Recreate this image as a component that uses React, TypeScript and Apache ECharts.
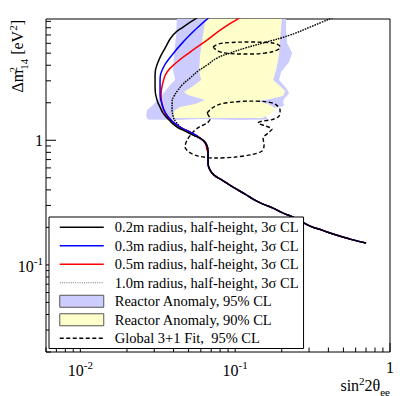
import React, { useEffect, useRef } from 'react';
import * as echarts from 'echarts';

type P = [number, number];

const F = "'Liberation Serif', 'Times New Roman', serif";

// Axis ranges
const X_MIN = 0.006;
const X_MAX = 1;
const Y_MIN = 0.02;
const Y_MAX = 9.4;

// Tick labels / tick values
const X_LABELS = [0.01, 0.1, 1];
const Y_LABELS = [0.1, 1];
const X_MAJOR = [0.01, 0.1, 1];
const Y_MAJOR = [0.1, 1];
const MINOR_STEPS = [2, 3, 4, 5, 6, 7, 8, 9];
const X_DECADES = [0.001, 0.01, 0.1];
const Y_DECADES = [0.01, 0.1, 1];

// Series names
const N02 = '0.2m radius, half-height, 3\u03c3 CL';
const N03 = '0.3m radius, half-height, 3\u03c3 CL';
const N05 = '0.5m radius, half-height, 3\u03c3 CL';
const N10 = '1.0m radius, half-height, 3\u03c3 CL';
const NRA95 = 'Reactor Anomaly, 95% CL';
const NRA90 = 'Reactor Anomaly, 90% CL';
const NGLOB = 'Global 3+1 Fit,  95% CL';

// Common lower branch of all sensitivity curves (sin^2 2theta, dm^2)
const TAIL: P[] = [
  [0.06682, 0.7897], [0.06682, 0.6562], [0.06884, 0.5764], [0.07306, 0.5258],
  [0.08228, 0.4793], [0.09692, 0.4209], [0.1159, 0.37], [0.1305, 0.3373],
  [0.1514, 0.3076], [0.1757, 0.2857], [0.2039, 0.2604], [0.2366, 0.2417],
  [0.3047, 0.2048], [0.3642, 0.1902], [0.429, 0.1767], [0.5524, 0.161],
  [0.7009, 0.1496],
];

const R02_UPPER: P[] = [
  [0.05845, 9.817], [0.04607, 8.1], [0.03972, 6.989], [0.03526, 5.495],
  [0.03177, 4.243], [0.03038, 3.337], [0.03038, 2.624], [0.0313, 2.102],
  [0.03272, 1.847], [0.03422, 1.653], [0.03741, 1.453], [0.04216, 1.276],
  [0.04747, 1.185], [0.05347, 1.101], [0.06203, 1.004], [0.06584, 0.8984],
];

const R03_UPPER: P[] = [
  [0.06884, 9.817], [0.05674, 7.952], [0.04607, 6.14], [0.03913, 4.829],
  [0.03422, 3.797], [0.03272, 2.932], [0.03272, 2.306], [0.03372, 1.952],
  [0.03526, 1.684], [0.03855, 1.453], [0.04406, 1.276], [0.05113, 1.164],
  [0.05933, 1.041], [0.06486, 0.9322], [0.06633, 0.85],
];

const R05_UPPER: P[] = [
  [0.1125, 9.926], [0.08351, 7.952], [0.06584, 6.372], [0.05113, 5.104],
  [0.04216, 4.243], [0.03633, 3.527], [0.03422, 2.932], [0.03322, 2.306],
  [0.03372, 1.916], [0.03526, 1.653], [0.03798, 1.453], [0.04406, 1.276],
  [0.05268, 1.142], [0.05933, 1.041], [0.06391, 0.9496], [0.06584, 0.8344],
];

const R10_UPPER: P[] = [
  [0.4419, 9.817], [0.3047, 8.1], [0.2263, 6.989], [0.1514, 6.027],
  [0.1159, 5.495], [0.0927, 5.01], [0.07639, 4.567], [0.06584, 4.014],
  [0.05759, 3.593], [0.05113, 3.157], [0.04607, 2.825], [0.04279, 2.529],
  [0.04031, 2.263], [0.03913, 2.025], [0.03913, 1.813], [0.03972, 1.564],
  [0.04153, 1.4], [0.04607, 1.23], [0.05674, 1.061], [0.06296, 0.9853],
  [0.06584, 0.9151], [0.06682, 0.8344],
];

// Global 3+1 fit, 95% CL contours
const GLOBAL_UPPER: P[] = [
  [0.07198, 5.597], [0.07754, 5.917], [0.0927, 6.083], [0.1248, 6.14],
  [0.1631, 6.083], [0.1892, 5.863], [0.195, 5.597], [0.1865, 5.296],
  [0.156, 5.01], [0.1212, 4.919], [0.0927, 4.964], [0.07754, 5.199],
  [0.07198, 5.597],
];

const GLOBAL_LOWER: P[] = [
  [0.06584, 1.653], [0.07092, 1.813], [0.07986, 1.952], [0.09692, 2.025],
  [0.1248, 2.063], [0.156, 2.044], [0.181, 1.952], [0.195, 1.747],
  [0.1921, 1.564], [0.1731, 1.466], [0.1448, 1.413], [0.1406, 1.374],
  [0.1583, 1.3], [0.1731, 1.23], [0.1631, 1.142], [0.1514, 1.041],
  [0.1537, 0.9151], [0.1492, 0.8191], [0.1286, 0.768], [0.09985, 0.7332],
  [0.07415, 0.7197], [0.05759, 0.7469], [0.05038, 0.8045], [0.04747, 0.8819],
  [0.0489, 1.004], [0.05347, 1.164], [0.05845, 1.276], [0.06584, 1.374],
  [0.06884, 1.48], [0.06584, 1.653],
];

// Reactor anomaly allowed regions
const RA95_REGION: P[] = [
  [0.04153, 6.989], [0.04031, 4.829], [0.03972, 3.66], [0.04092, 3.042],
  [0.03798, 2.774], [0.03372, 2.306], [0.02949, 1.916], [0.02697, 1.747],
  [0.02657, 1.564], [0.02737, 1.466], [0.04092, 1.453], [0.05933, 1.48],
  [0.1076, 1.453], [0.1631, 1.466], [0.156, 1.593], [0.1365, 1.715],
  [0.168, 1.78], [0.207, 1.882], [0.2039, 2.025], [0.207, 2.142],
  [0.223, 2.393], [0.2132, 2.624], [0.1921, 3.042], [0.1979, 3.527],
  [0.223, 4.243], [0.2331, 5.01], [0.2164, 6.027], [0.2132, 7.663],
  [0.2132, 10], [0.04216, 10],
];

const RA90_REGION: P[] = [
  [0.06203, 6.989], [0.05933, 4.829], [0.05845, 3.66], [0.06022, 3.042],
  [0.05347, 2.723], [0.04676, 2.437], [0.04963, 2.306], [0.05759, 2.182],
  [0.06391, 2.102], [0.05508, 1.952], [0.04406, 1.847], [0.04031, 1.715],
  [0.03972, 1.507], [0.0927, 1.507], [0.1492, 1.507], [0.1731, 1.653],
  [0.181, 1.813], [0.1631, 1.952], [0.1406, 2.063], [0.168, 2.142],
  [0.2039, 2.263], [0.2101, 2.483], [0.195, 2.723], [0.1757, 3.042],
  [0.1837, 3.66], [0.1921, 4.829], [0.195, 6.372], [0.2009, 10],
  [0.06486, 10],
];

const near = (a: number, list: number[]) => list.some((b) => Math.abs(a / b - 1) < 1e-6);

const logLabel = (list: number[]) => (v: number) => {
  if (!near(v, list)) return '';
  const e = Math.round(Math.log10(v));
  return e === 0 ? '{b|1}' : `{b|10}{s|${e}}`;
};

const minorTicks = (decades: number[], lo: number, hi: number) =>
  decades
    .flatMap((d) => MINOR_STEPS.map((s) => d * s))
    .filter((v) => v > lo * 0.999 && v < hi * 1.001);

export default function App() {
  const ref = useRef<HTMLDivElement>(null);

  useEffect(() => {
    if (!ref.current) return;
    const chart = echarts.init(ref.current, null, { renderer: 'svg' });

    const labelRich = {
      b: { fontSize: 16, fontFamily: F, color: '#000', verticalAlign: 'bottom' },
      s: { fontSize: 11, fontFamily: F, color: '#000', verticalAlign: 'bottom', padding: [0, 0, 8, 0] },
    };

    const titleRich: any = {
      m: { fontSize: 16, fontFamily: F, fill: '#000', verticalAlign: 'bottom', padding: [0, 0, 4, 0] },
      p: { fontSize: 11, fontFamily: F, fill: '#000', verticalAlign: 'bottom', padding: [0, 0, 11, 0] },
      z: { fontSize: 11, fontFamily: F, fill: '#000', verticalAlign: 'bottom', padding: [0, 0, 11, 0], width: 0.01, align: 'left' },
      q: { fontSize: 11, fontFamily: F, fill: '#000', verticalAlign: 'bottom' },
    };

    const tickData: number[][] = [
      ...X_MAJOR.map((v) => [v, Y_MIN, 0, 1]),
      ...minorTicks(X_DECADES, X_MIN, X_MAX).map((v) => [v, Y_MIN, 0, 0]),
      ...Y_MAJOR.map((v) => [X_MIN, v, 1, 1]),
      ...minorTicks(Y_DECADES, Y_MIN, Y_MAX).map((v) => [X_MIN, v, 1, 0]),
    ];

    const polygonSeries = (name: string, pts: P[], fill: string) => ({
      type: 'custom',
      name,
      data: pts,
      encode: { x: 0, y: 1 },
      clip: true,
      silent: true,
      z: 1,
      renderItem: (params: any, api: any) => {
        if (params.dataIndex !== 0) return null;
        return {
          type: 'polygon',
          shape: { points: pts.map((p) => api.coord(p)) },
          style: { fill, stroke: 'none' },
        };
      },
    });

    const lineSeries = (name: string, data: P[], color: string, width: number, type: any, smooth = 0.5) => ({
      type: 'line',
      name,
      data,
      symbol: 'none',
      showSymbol: false,
      smooth,
      silent: true,
      clip: true,
      z: 3,
      lineStyle: { color, width, type },
      itemStyle: { color },
    });

    const lineLegendItem = (name: string, extra: any = {}) => ({
      name,
      itemStyle: { opacity: 0 },
      ...extra,
    });

    const option: any = {
      animation: false,
      backgroundColor: '#fff',
      textStyle: { fontFamily: F },
      grid: {
        left: 46,
        right: 21,
        top: 19,
        bottom: 44,
        show: true,
        borderColor: '#000',
        borderWidth: 1,
        backgroundColor: 'transparent',
        containLabel: false,
        outerBoundsMode: 'none',
      },
      xAxis: {
        type: 'log',
        logBase: 10,
        min: X_MIN,
        max: X_MAX,
        axisLine: { show: false },
        axisTick: { show: false },
        minorTick: { show: false },
        splitLine: { show: false },
        axisLabel: {
          margin: 7,
          formatter: logLabel(X_LABELS),
          rich: labelRich,
          alignMinLabel: 'center',
          alignMaxLabel: 'center',
        },
      },
      yAxis: {
        type: 'log',
        logBase: 10,
        min: Y_MIN,
        max: Y_MAX,
        axisLine: { show: false },
        axisTick: { show: false },
        minorTick: { show: false },
        splitLine: { show: false },
        axisLabel: {
          margin: 3,
          formatter: logLabel(Y_LABELS),
          rich: labelRich,
          alignMinLabel: 'center',
          alignMaxLabel: 'center',
        },
      },
      legend: {
        orient: 'vertical',
        left: 49,
        top: 217,
        itemWidth: 44,
        itemHeight: 12,
        itemGap: 0,
        padding: [1, 5, 1, 10],
        backgroundColor: '#fff',
        borderColor: '#000',
        borderWidth: 1,
        borderRadius: 0,
        selectedMode: false,
        lineStyle: { width: 1.5 },
        textStyle: {
          fontFamily: F,
          fontSize: 14.5,
          color: '#000',
          lineHeight: 18.5,
          padding: [0, 0, 0, 6],
        },
        data: [
          lineLegendItem(N02),
          lineLegendItem(N03),
          lineLegendItem(N05),
          lineLegendItem(N10, { lineStyle: { color: '#777', type: [1, 1.2], width: 1 } }),
          { name: NRA95, icon: 'rect', itemStyle: { color: '#ccccff', borderColor: '#555', borderWidth: 1, opacity: 1 } },
          { name: NRA90, icon: 'rect', itemStyle: { color: '#ffffcc', borderColor: '#555', borderWidth: 1, opacity: 1 } },
          lineLegendItem(NGLOB),
        ],
      },
      graphic: [
        {
          type: 'text',
          x: 390,
          y: 375,
          silent: true,
          style: {
            text: '{m|sin}{p|2}{m|2\u03b8}{q|ee}',
            align: 'right',
            textAlign: 'right',
            verticalAlign: 'top',
            textVerticalAlign: 'top',
            fill: '#000',
            fontFamily: F,
            fontSize: 16,
            rich: titleRich,
          },
        },
        {
          type: 'text',
          x: 7,
          y: 20,
          rotation: Math.PI / 2,
          silent: true,
          style: {
            text: '{m|\u0394m}{z|2}{q|14}{m| [eV}{p|2}{m|]}',
            align: 'right',
            textAlign: 'right',
            verticalAlign: 'top',
            textVerticalAlign: 'top',
            fill: '#000',
            fontFamily: F,
            fontSize: 16,
            rich: titleRich,
          },
        },
      ],
      series: [
        polygonSeries(NRA95, RA95_REGION, '#ccccff'),
        polygonSeries(NRA90, RA90_REGION, '#ffffcc'),
        lineSeries(NGLOB, GLOBAL_UPPER, '#000', 1.4, [4, 2.5], 0.4),
        lineSeries(NGLOB, GLOBAL_LOWER, '#000', 1.4, [4, 2.5], 0.3),
        lineSeries(N10, [...R10_UPPER, ...TAIL], '#000', 1.4, [1.6, 1]),
        lineSeries(N05, [...R05_UPPER, ...TAIL], '#ff0000', 1.5, 'solid'),
        lineSeries(N03, [...R03_UPPER, ...TAIL], '#0000ff', 1.5, 'solid'),
        lineSeries(N02, [...R02_UPPER, ...TAIL], '#000000', 1.5, 'solid'),
        {
          type: 'custom',
          name: 'ticks',
          data: tickData,
          encode: { x: 0, y: 1 },
          silent: true,
          z: 2,
          renderItem: (params: any, api: any) => {
            const p = api.coord([api.value(0), api.value(1)]);
            const isY = api.value(2) === 1;
            const major = api.value(3) === 1;
            const len = isY ? (major ? 10 : 5) : major ? 9 : 4.5;
            return {
              type: 'line',
              shape: isY
                ? { x1: p[0], y1: p[1], x2: p[0] + len, y2: p[1] }
                : { x1: p[0], y1: p[1], x2: p[0], y2: p[1] - len },
              style: { stroke: '#000', lineWidth: 1 },
            };
          },
        },
      ],
    };

    chart.setOption(option);
    return () => chart.dispose();
  }, []);

  return (
    <div
      ref={ref}
      style={{ position: 'fixed', left: 0, top: 0, width: 411, height: 396, background: '#fff' }}
    />
  );
}
